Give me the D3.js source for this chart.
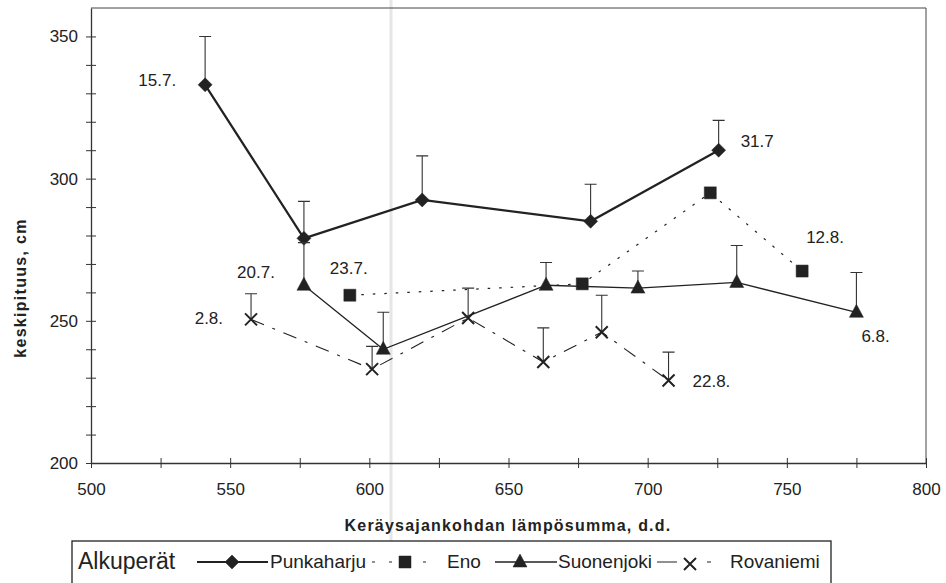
<!DOCTYPE html>
<html>
<head>
<meta charset="utf-8">
<script src="https://cdn.jsdelivr.net/npm/d3@7"></script>
<style>
  body { margin: 0; background: #fff; }
  svg { font-family: "Liberation Sans", Arial, sans-serif; }
  .tick text { font-size: 17px; fill: #222; }
  .tick line, .domain { stroke: #333; }
  .pointLabel { font-size: 17px; fill: #222; }
</style>
</head>
<body>
<svg id="chart" width="946" height="583"></svg>
<script>
// keräyspäivän lämpösumma (d.d.) ja keskipituus (cm) alkuperittäin
var punkX = [541, 576.5, 619, 679.5, 725.5];
var punkY = [333, 279, 292.5, 285, 310];
var punkErr = [17, 13, 15.5, 13, 10.5];

var enoX = [593, 676.5, 722.5, 755.5];
var enoY = [259, 263, 295, 267.5];

var suoX = [576.5, 605, 663.5, 696.5, 732, 775];
var suoY = [262.5, 240, 262.5, 261.5, 263.5, 253];
var suoErr = [15, 13, 8, 6, 13, 14];

var rovX = [557.5, 601, 635.5, 662.5, 683.5, 707.5];
var rovY = [250.5, 233, 251, 235.5, 246, 229];
var rovErr = [9, 8, 10.5, 12, 13, 10];

var xTicks = [500, 550, 600, 650, 700, 750, 800];
var yTicks = [200, 250, 300, 350];

var seriesNames = ["Punkaharju", "Eno", "Suonenjoki", "Rovaniemi"];
var dateLabels = {
    Punkaharju: ["15.7.", "", "", "", "31.7"],
    Eno: ["23.7.", "", "", "12.8."],
    Suonenjoki: ["20.7.", "", "", "", "", "6.8."],
    Rovaniemi: ["2.8.", "", "", "", "", "22.8."]
};

var svg = d3.select("#chart");
var ink = "#222";

var x = d3.scaleLinear().domain([500, 800]).range([91, 926]);
var y = d3.scaleLinear().domain([200, 360]).range([463, 8]);

// scan streak
svg.append("line")
    .attr("x1", 391).attr("x2", 391).attr("y1", 0).attr("y2", 583)
    .attr("stroke", "#e6e6e6").attr("stroke-width", 3);

// frame top/right
svg.append("path")
    .attr("d", "M" + x(500) + "," + y(360) + "H" + x(800) + "V" + y(200))
    .attr("fill", "none").attr("stroke", "#444").attr("stroke-width", 1);

var xAxis = svg.append("g")
    .attr("transform", "translate(0," + y(200) + ")")
    .call(d3.axisBottom(x).tickValues(d3.range(500, 801, 25)).tickSize(0).tickPadding(20)
        .tickFormat(function(d) { return xTicks.indexOf(d) >= 0 ? d : ""; }));
xAxis.selectAll(".tick line").attr("y1", -5).attr("y2", 5);
xAxis.select(".domain").attr("stroke-width", 1.3);

var yAxis = svg.append("g")
    .attr("transform", "translate(" + x(500) + ",0)")
    .call(d3.axisLeft(y).tickValues(d3.range(200, 361, 10)).tickSize(0).tickPadding(13)
        .tickFormat(function(d) { return yTicks.indexOf(d) >= 0 ? d : ""; }));
yAxis.selectAll(".tick line").attr("x1", -5).attr("x2", 5)
    .filter(function(d) { return d === 360; }).remove();
yAxis.select(".domain").attr("stroke-width", 1.3);

svg.append("text")
    .attr("transform", "translate(26,288) rotate(-90)")
    .attr("text-anchor", "middle")
    .style("font-size", "16px").style("font-weight", "bold").style("letter-spacing", "1.3px")
    .attr("fill", ink)
    .text("keskipituus, cm");

svg.append("text")
    .attr("x", 508).attr("y", 531)
    .attr("text-anchor", "middle")
    .style("font-size", "16px").style("font-weight", "bold").style("letter-spacing", "1.2px")
    .attr("fill", ink)
    .text("Keräysajankohdan lämpösumma, d.d.");

function pts(xs, ys, errs) {
    return xs.map(function(v, i) {
        return { x: v, y: ys[i], e: errs ? errs[i] : 0 };
    });
}

var series = [
    { name: "Punkaharju", data: pts(punkX, punkY, punkErr), width: 2.2, dash: null, marker: "diamond" },
    { name: "Eno", data: pts(enoX, enoY, null), width: 1.2, dash: "2.5,9", marker: "square" },
    { name: "Suonenjoki", data: pts(suoX, suoY, suoErr), width: 1.3, dash: null, marker: "triangle" },
    { name: "Rovaniemi", data: pts(rovX, rovY, rovErr), width: 1.1, dash: "14,9,3,9", marker: "cross" }
];

var line = d3.line()
    .x(function(d) { return x(d.x); })
    .y(function(d) { return y(d.y); });

function markerPath(type) {
    if (type === "diamond") return "M0,-7L7,0L0,7L-7,0Z";
    if (type === "square") return "M-6,-6H6V6H-6Z";
    if (type === "triangle") return "M0,-8L7,5H-7Z";
    return "M-6,-6L6,6M-6,6L6,-6";
}

function drawMarker(g, type) {
    var p = g.append("path").attr("d", markerPath(type));
    if (type === "cross") p.attr("fill", "none").attr("stroke", ink).attr("stroke-width", 2);
    else p.attr("fill", ink).attr("stroke", ink).attr("stroke-width", 0.5);
}

series.forEach(function(s) {
    var g = svg.append("g").attr("class", "series");

    // error bars (upper only)
    g.selectAll("path.err")
        .data(s.data.filter(function(d) { return d.e > 0; }))
        .enter().append("path")
        .attr("class", "err")
        .attr("d", function(d) {
            var px = x(d.x), top = y(d.y + d.e);
            return "M" + px + "," + y(d.y) + "V" + top + "M" + (px - 6) + "," + top + "H" + (px + 6);
        })
        .attr("fill", "none").attr("stroke", "#333").attr("stroke-width", 1.1);

    g.append("path")
        .datum(s.data)
        .attr("d", line)
        .attr("fill", "none")
        .attr("stroke", ink)
        .attr("stroke-width", s.width)
        .attr("stroke-dasharray", s.dash);

    g.selectAll("g.marker")
        .data(s.data)
        .enter().append("g")
        .attr("class", "marker")
        .attr("transform", function(d) { return "translate(" + x(d.x) + "," + y(d.y) + ")"; })
        .each(function() { drawMarker(d3.select(this), s.marker); });
});

// date annotations: offsets relative to the point [dx, dy, anchor]
var labelOffsets = {
    "Punkaharju": [[-29, 1, "end"], null, null, null, [22, -3, "start"]],
    "Eno": [[-20, -21, "start"], null, null, [4, -28, "start"]],
    "Suonenjoki": [[-29, -7, "end"], null, null, null, null, [5, 30, "start"]],
    "Rovaniemi": [[-28, 5, "end"], null, null, null, null, [24, 6, "start"]]
};

series.forEach(function(s) {
    s.data.forEach(function(d, i) {
        var txt = dateLabels[s.name][i];
        var off = labelOffsets[s.name][i];
        if (!txt || !off) return;
        svg.append("text")
            .attr("class", "pointLabel")
            .attr("x", x(d.x) + off[0])
            .attr("y", y(d.y) + off[1])
            .attr("text-anchor", off[2])
            .text(txt);
    });
});

// legend (box runs off the bottom edge like in the scan)
var leg = svg.append("g").attr("class", "legend");
var legFont = "'Liberation Sans Narrow', 'Liberation Sans', sans-serif";
leg.append("rect")
    .attr("x", 72).attr("y", 541).attr("width", 759).attr("height", 60)
    .attr("fill", "#fff").attr("stroke", ink).attr("stroke-width", 1.3);
leg.append("text")
    .attr("x", 78).attr("y", 569)
    .style("font-size", "23px").style("font-family", legFont)
    .attr("fill", ink).text("Alkuperät");

var cy = 562;
var legItems = [
    { x1: 197, x2: 268, mx: 232, tx: 270, dash: null },
    { x1: 372, x2: 430, mx: 405, tx: 447, dash: "3,14" },
    { x1: 495, x2: 557, mx: 520, tx: 558, dash: null },
    { x1: 657, x2: 712, mx: 690, tx: 730, dash: "20,30,4,100" }
];
series.forEach(function(s, i) {
    var it = legItems[i];
    leg.append("line")
        .attr("x1", it.x1).attr("x2", it.x2)
        .attr("y1", cy).attr("y2", cy)
        .attr("stroke", ink).attr("stroke-width", s.width)
        .attr("stroke-dasharray", it.dash);
    var mg = leg.append("g").attr("transform", "translate(" + it.mx + "," + (cy + (s.marker === "cross" ? 2 : 0)) + ")");
    if (s.marker === "square") mg.append("rect").attr("x", -8).attr("y", -8).attr("width", 16).attr("height", 16).attr("fill", "#fff");
    drawMarker(mg, s.marker);
    leg.append("text")
        .attr("x", it.tx).attr("y", cy + 6)
        .style("font-size", "19px").style("font-family", legFont)
        .attr("fill", ink).text(seriesNames[i]);
});
</script>
</body>
</html>
